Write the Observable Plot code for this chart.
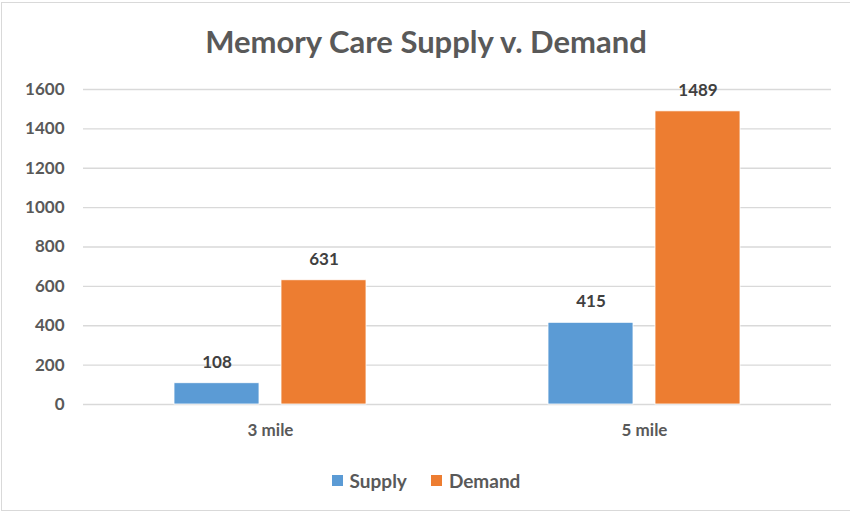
<!DOCTYPE html>
<html>
<head>
<meta charset="utf-8">
<script src="https://cdn.jsdelivr.net/npm/d3@7"></script>
<script src="https://cdn.jsdelivr.net/npm/@observablehq/plot@0.6"></script>
<style>
  html, body { margin: 0; padding: 0; background: #fff; }
  #frame {
    position: relative; width: 849px; height: 509px; margin: 2px 0 0 1px;
    border: 1px solid #d9d9d9; border-right: none; box-sizing: border-box;
    font-family: Lato, sans-serif; color: #595959; overflow: hidden;
  }
  #title {
    height: 68px; line-height: 76px; text-align: center;
    font-size: 31px; font-weight: 700; color: #595959;
  }
  #legend {
    display: flex; justify-content: center; align-items: center; gap: 24px;
    font-size: 19px; font-weight: 700; color: #595959; margin-top: 20px;
  }
  .sw { display: inline-block; width: 11px; height: 11px; margin-right: 7px; }
  .item { display: flex; align-items: center; }
</style>
</head>
<body>
<div id="frame">
  <div id="title">Memory Care Supply v. Demand</div>
  <div id="chart"></div>
  <div id="legend"></div>
</div>
<script>
const categories = ["3 mile", "5 mile"];
const series = ["Supply", "Demand"];
const supplyValues = [108, 415];
const demandValues = [631, 1489];
const yTicks = [0, 200, 400, 600, 800, 1000, 1200, 1400, 1600];
const colors = ["#5B9BD5", "#ED7D31"];

const rows = [];
categories.forEach((c, i) => {
  rows.push({cat: c, series: "Supply", value: supplyValues[i]});
  rows.push({cat: c, series: "Demand", value: demandValues[i]});
});

const chart = Plot.plot({
  width: 848,
  height: 378,
  marginLeft: 81,
  marginRight: 19,
  marginTop: 18,
  marginBottom: 45,
  style: {fontFamily: "Lato, sans-serif", fontSize: "17px", fontWeight: 700, color: "#595959", background: "transparent"},
  facet: {data: rows, x: "cat"},
  fx: {domain: categories, padding: 0, axis: "bottom", label: null, tickSize: 0, tickPadding: 19},
  x: {domain: series, axis: null, paddingInner: 0.21, paddingOuter: 0.85},
  y: {domain: [0, 1600], ticks: yTicks, tickSize: 0, tickPadding: 19, label: null, tickFormat: d => String(d)},
  color: {domain: series, range: colors},
  marks: [
    Plot.ruleY(yTicks, {stroke: "#d9d9d9", strokeWidth: 1.3}),
    Plot.barY(rows, {x: "series", y: "value", fill: "series", stroke: "#ffffff", strokeWidth: 0.8}),
    Plot.text(rows, {x: "series", y: "value", text: d => String(d.value), dy: -21, fill: "#404040", fontSize: 17, fontWeight: 700})
  ]
});
document.getElementById("chart").appendChild(chart);

const legend = document.getElementById("legend");
series.forEach((s, i) => {
  const item = document.createElement("div");
  item.className = "item";
  const sw = document.createElement("span");
  sw.className = "sw";
  sw.style.background = colors[i];
  item.appendChild(sw);
  item.appendChild(document.createTextNode(s));
  legend.appendChild(item);
});
</script>
</body>
</html>
